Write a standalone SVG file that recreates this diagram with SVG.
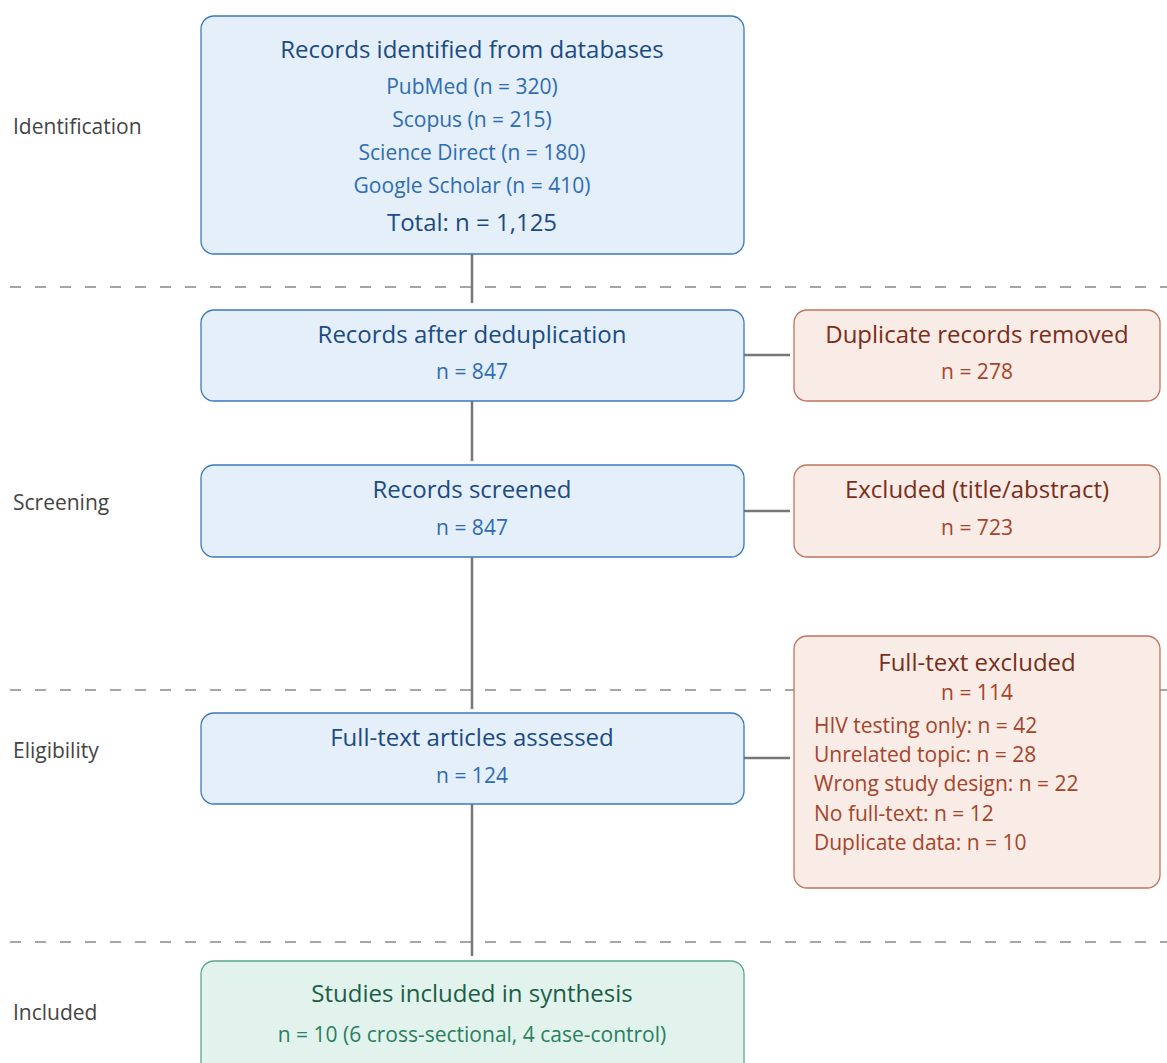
<svg xmlns="http://www.w3.org/2000/svg" width="1167" height="1063" viewBox="0 0 1167 1063">
<style>
text{font-family:"Open Sans","Noto Sans","DejaVu Sans",sans-serif}
.stage{font-size:21px;fill:#444}
.bt{font-size:24px;fill:#1b4b82;text-anchor:middle}
.bs{font-size:21px;fill:#2e6cb2;text-anchor:middle}
.rt{font-size:24px;fill:#7a2e1a;text-anchor:middle}
.rs{font-size:21px;fill:#a4452a;text-anchor:middle}
.rl{font-size:21px;fill:#a4452a}
.gt{font-size:24px;fill:#1b5e45;text-anchor:middle}
.gs{font-size:21px;fill:#2a7f5f;text-anchor:middle}
.blue{fill:#e4effa;stroke:#3c78be;stroke-width:1.3}
.red{fill:#f9ebe6;stroke:#c0735c;stroke-width:1.3}
.green{fill:#e1f3ec;stroke:#5da88a;stroke-width:1.3}
.dash{stroke:#888;stroke-width:1.5;stroke-dasharray:11 14;fill:none}
.conn{stroke:#777;stroke-width:2.5;fill:none}
</style>
<rect width="1167" height="1063" fill="#fff"/>
<g id="stages">
<line class="dash" x1="10" y1="287" x2="1167" y2="287"/>
<line class="dash" x1="10" y1="690" x2="1167" y2="690"/>
<line class="dash" x1="10" y1="942" x2="1167" y2="942"/>
<text class="stage" x="13" y="134">Identification</text>
<text class="stage" x="13" y="510">Screening</text>
<text class="stage" x="13" y="758">Eligibility</text>
<text class="stage" x="13" y="1020">Included</text>
</g>
<g id="connectors">
<line class="conn" x1="472" y1="254" x2="472" y2="303"/>
<line class="conn" x1="472" y1="401" x2="472" y2="461"/>
<line class="conn" x1="472" y1="557" x2="472" y2="709"/>
<line class="conn" x1="472" y1="804" x2="472" y2="956"/>
<line class="conn" x1="744" y1="355" x2="790" y2="355"/>
<line class="conn" x1="744" y1="511" x2="790" y2="511"/>
<line class="conn" x1="744" y1="758" x2="790" y2="758"/>
</g>
<g id="identified">
<rect class="blue" x="201" y="16" width="543" height="238" rx="13"/>
<text class="bt" x="472" y="58">Records identified from databases</text>
<text class="bs" x="472" y="94">PubMed (n = 320)</text>
<text class="bs" x="472" y="127">Scopus (n = 215)</text>
<text class="bs" x="472" y="160">Science Direct (n = 180)</text>
<text class="bs" x="472" y="193">Google Scholar (n = 410)</text>
<text class="bt" x="472" y="231">Total: n = 1,125</text>
</g>
<g id="dedup">
<rect class="blue" x="201" y="310" width="543" height="91" rx="13"/>
<text class="bt" x="472" y="343">Records after deduplication</text>
<text class="bs" x="472" y="379">n = 847</text>
</g>
<g id="duplicates">
<rect class="red" x="794" y="310" width="366" height="91" rx="13"/>
<text class="rt" x="977" y="343">Duplicate records removed</text>
<text class="rs" x="977" y="379">n = 278</text>
</g>
<g id="screened">
<rect class="blue" x="201" y="465" width="543" height="92" rx="13"/>
<text class="bt" x="472" y="498">Records screened</text>
<text class="bs" x="472" y="535">n = 847</text>
</g>
<g id="excluded-ta">
<rect class="red" x="794" y="465" width="366" height="92" rx="13"/>
<text class="rt" x="977" y="498">Excluded (title/abstract)</text>
<text class="rs" x="977" y="535">n = 723</text>
</g>
<g id="fulltext">
<rect class="blue" x="201" y="713" width="543" height="91" rx="13"/>
<text class="bt" x="472" y="746">Full-text articles assessed</text>
<text class="bs" x="472" y="783">n = 124</text>
</g>
<g id="excluded-ft">
<rect class="red" x="794" y="636" width="366" height="252" rx="13"/>
<text class="rt" x="977" y="671">Full-text excluded</text>
<text class="rs" x="977" y="700">n = 114</text>
<text class="rl" x="814" y="733">HIV testing only: n = 42</text>
<text class="rl" x="814" y="762">Unrelated topic: n = 28</text>
<text class="rl" x="814" y="791">Wrong study design: n = 22</text>
<text class="rl" x="814" y="821">No full-text: n = 12</text>
<text class="rl" x="814" y="850">Duplicate data: n = 10</text>
</g>
<g id="included">
<rect class="green" x="201" y="961" width="543" height="120" rx="13"/>
<text class="gt" x="472" y="1002">Studies included in synthesis</text>
<text class="gs" x="472" y="1042">n = 10 (6 cross-sectional, 4 case-control)</text>
</g>
</svg>
